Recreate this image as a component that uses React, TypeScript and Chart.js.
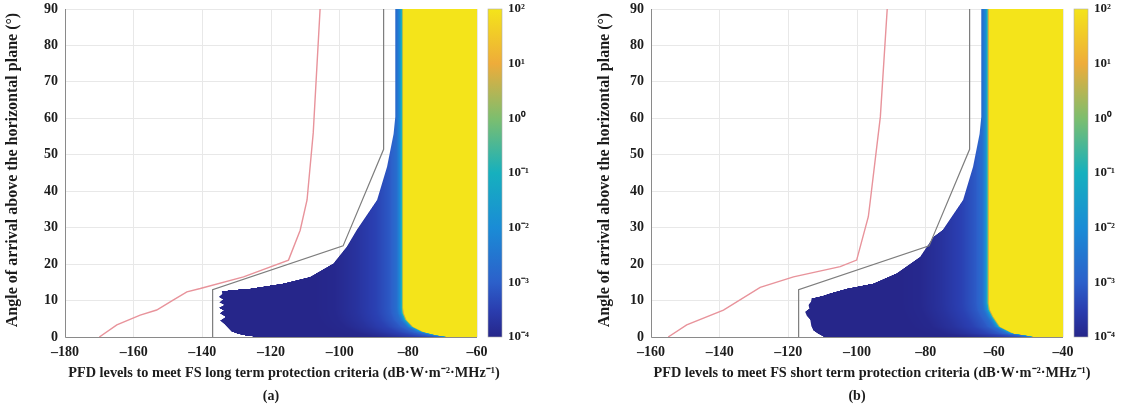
import React, { useEffect, useRef } from 'react';
import { Chart, registerables } from 'chart.js';

Chart.register(...registerables);

const FONT = "'Liberation Serif', 'Times New Roman', serif";
const TEXT = '#1c1c1c';

// ---- shared ticks / colour bar ----
const Y_TICKS = [0, 10, 20, 30, 40, 50, 60, 70, 80, 90];
const CB_TICKS = [1e-4, 1e-3, 1e-2, 1e-1, 1, 10, 100];
const CB_LABELS = ['10⁻⁴', '10⁻³', '10⁻²', '10⁻¹', '10⁰', '10¹', '10²'];
const CB_STOP_LOG = [-4, -3.5, -3, -2, -1, 0, 1, 2];
const CB_STOP_RGB = [
  [38, 38, 138],
  [42, 62, 176],
  [44, 96, 202],
  [26, 140, 214],
  [22, 176, 190],
  [125, 190, 110],
  [238, 172, 58],
  [244, 228, 26],
];
// colour (log10 value) versus distance (dB) to the yellow front
const PROFILE_D = [0, 0.2, 0.4, 0.6, 1.0, 2.0, 4, 8, 14, 20, 26];
const PROFILE_LOG = [2, 0.8, 0, -1, -2, -2.7, -3.1, -3.45, -3.75, -3.95, -4];

// ---- panel (a): long term ----
const X_TICKS_A = [-180, -160, -140, -120, -100, -80, -60];
const PINK_X_A = [-170, -164.9, -158.1, -153.3, -148.4, -144.5, -140.6, -128, -114.9, -111.5, -109.5, -107.7, -105.7];
const PINK_Y_A = [0, 3.3, 6.0, 7.4, 10.2, 12.4, 13.3, 16.5, 21.1, 29.3, 37.6, 56, 90];
const GRAY_X_A = [-137, -137, -99, -87.2, -87.2];
const GRAY_Y_A = [0, 13, 25, 51.5, 90];
const EDGE_ANG_A = [0, 0.3, 0.8, 1.5, 2.5, 3.5, 4.5, 5.5, 6.5, 7.3, 8.0, 8.8, 9.5, 10.3, 11.0, 11.8, 12.6, 13.0, 13.3, 14.7, 16.5, 20.2, 24.8, 29.4, 37.6, 46.7, 55.7, 60.4, 90];
const EDGE_X_A = [-124, -127, -129.5, -131.5, -132.5, -133.5, -134.8, -133.2, -134.9, -133.8, -135.2, -133.6, -135, -134, -135.2, -134.2, -134.3, -130, -126, -116.4, -108.6, -101.8, -97.9, -95, -89.1, -86.2, -84.3, -83.8, -83.8];
const YEL_ANG_A = [0, 0.1, 0.5, 1.4, 2.8, 4.7, 6.5, 8, 90];
const YEL_X_A = [-66, -68.7, -71.6, -75.5, -78.5, -80.4, -81.2, -81.4, -81.4];

// ---- panel (b): short term ----
const X_TICKS_B = [-160, -140, -120, -100, -80, -60, -40];
const PINK_X_B = [-155, -149.6, -138.9, -128.2, -118.5, -104.9, -100.1, -96.7, -96.1, -93.2, -91.2];
const PINK_Y_B = [0, 3.3, 7.4, 13.6, 16.5, 19.3, 21.1, 33, 37.6, 60.4, 90];
const GRAY_X_B = [-117, -117, -79, -67.2, -67.2];
const GRAY_Y_B = [0, 13, 25, 51.5, 90];
const EDGE_ANG_B = [0, 0.1, 1.0, 1.8, 3.0, 4.7, 5.8, 6.9, 7.8, 8.8, 9.7, 10.6, 11.3, 12.0, 13.3, 14.7, 17.5, 22.0, 27.5, 29.4, 37.6, 46.7, 55.7, 60.4, 90];
const EDGE_X_B = [-105, -109.8, -111.5, -112.7, -113.3, -113.6, -114.6, -115.1, -113.9, -114.1, -113.4, -113.2, -110, -107.8, -102.9, -95.2, -88.4, -81.6, -77.7, -75, -69.1, -66.2, -64.3, -63.8, -63.8];
const YEL_ANG_B = [0, 0.3, 1.0, 2.8, 5.6, 7.5, 9.3, 90];
const YEL_X_B = [-48, -49.5, -54.4, -58.2, -60.2, -61.2, -61.5, -61.5];

const Y_TITLE = 'Angle of arrival above the horizontal plane (°)';
const X_TITLE_A = 'PFD levels to meet FS long term protection criteria (dB·W·m⁻²·MHz⁻¹)';
const X_TITLE_B = 'PFD levels to meet FS short term protection criteria (dB·W·m⁻²·MHz⁻¹)';

function interp(v: number, xs: number[], ys: number[]) {
  if (v <= xs[0]) return ys[0];
  for (let i = 1; i < xs.length; i++) {
    if (v <= xs[i]) {
      const t = (v - xs[i - 1]) / (xs[i] - xs[i - 1]);
      return ys[i - 1] + t * (ys[i] - ys[i - 1]);
    }
  }
  return ys[ys.length - 1];
}

function colorAt(lg: number) {
  const r = interp(lg, CB_STOP_LOG, CB_STOP_RGB.map((c) => c[0]));
  const g = interp(lg, CB_STOP_LOG, CB_STOP_RGB.map((c) => c[1]));
  const b = interp(lg, CB_STOP_LOG, CB_STOP_RGB.map((c) => c[2]));
  return [r, g, b];
}

interface Panel {
  xTicks: number[];
  pinkX: number[]; pinkY: number[];
  grayX: number[]; grayY: number[];
  edgeAng: number[]; edgeX: number[];
  yelAng: number[]; yelX: number[];
  xTitle: string; tag: string;
  yAxisWidth: number; yTitleX: number; cbWidth: number; xTitleShift: number;
}

const PANEL_A: Panel = {
  xTicks: X_TICKS_A, pinkX: PINK_X_A, pinkY: PINK_Y_A, grayX: GRAY_X_A, grayY: GRAY_Y_A,
  edgeAng: EDGE_ANG_A, edgeX: EDGE_X_A, yelAng: YEL_ANG_A, yelX: YEL_X_A,
  xTitle: X_TITLE_A, tag: '(a)', yAxisWidth: 65, yTitleX: 13, cbWidth: 84, xTitleShift: 13,
};
const PANEL_B: Panel = {
  xTicks: X_TICKS_B, pinkX: PINK_X_B, pinkY: PINK_Y_B, grayX: GRAY_X_B, grayY: GRAY_Y_B,
  edgeAng: EDGE_ANG_B, edgeX: EDGE_X_B, yelAng: YEL_ANG_B, yelX: YEL_X_B,
  xTitle: X_TITLE_B, tag: '(b)', yAxisWidth: 90, yTitleX: 44, cbWidth: 59, xTitleShift: 15,
};

function makeField(p: Panel) {
  return {
    id: 'field',
    beforeDatasetsDraw(chart: any) {
      const { ctx, chartArea: ca, scales } = chart;
      const xs = scales.x, ys = scales.y;
      const w = Math.round(ca.right - ca.left), h = Math.round(ca.bottom - ca.top);
      const off = document.createElement('canvas');
      off.width = w; off.height = h;
      const octx = off.getContext('2d')!;
      const img = octx.createImageData(w, h);
      const colVals: number[] = [];
      for (let i = 0; i < w; i++) colVals.push(xs.getValueForPixel(ca.left + i + 0.5));
      for (let j = 0; j < h; j++) {
        const ang = ys.getValueForPixel(ca.top + j + 0.5);
        if (ang < 0 || ang > 90) continue;
        const left = interp(ang, p.edgeAng, p.edgeX);
        const yel = interp(ang, p.yelAng, p.yelX);
        const leftPx = xs.getPixelForValue(left) - ca.left;
        for (let i = 0; i < w; i++) {
          const cov = Math.min(1, Math.max(0, i + 1 - leftPx));
          if (cov <= 0) continue;
          const d = yel - colVals[i];
          const lg = d <= 0 ? 2 : interp(d, PROFILE_D, PROFILE_LOG);
          const c = colorAt(lg);
          const k = (j * w + i) * 4;
          img.data[k] = c[0]; img.data[k + 1] = c[1]; img.data[k + 2] = c[2];
          img.data[k + 3] = Math.round(255 * cov);
        }
      }
      octx.putImageData(img, 0, 0);
      ctx.drawImage(off, ca.left, ca.top);
    },
    afterDraw(chart: any) {
      const { ctx, chartArea: ca, scales } = chart;
      const cb = scales.cb;
      // colour bar
      const x0 = ca.right + 11, bw = 14;
      const grad = ctx.createLinearGradient(0, ca.bottom, 0, ca.top);
      const span = ca.bottom - ca.top;
      CB_STOP_LOG.forEach((lg, i) => {
        const py = cb.getPixelForValue(Math.pow(10, lg));
        const c = CB_STOP_RGB[i];
        grad.addColorStop(Math.min(1, Math.max(0, (ca.bottom - py) / span)), `rgb(${c[0]},${c[1]},${c[2]})`);
      });
      ctx.save();
      ctx.fillStyle = grad;
      ctx.fillRect(x0, ca.top, bw, span);
      ctx.strokeStyle = '#b0b0b0';
      ctx.lineWidth = 0.6;
      ctx.strokeRect(x0, ca.top, bw, span);
      // axis lines on top of field
      ctx.strokeStyle = '#8a8a8a';
      ctx.lineWidth = 1;
      ctx.beginPath();
      ctx.moveTo(ca.left + 0.5, ca.top);
      ctx.lineTo(ca.left + 0.5, ca.bottom + 0.5);
      ctx.lineTo(ca.right, ca.bottom + 0.5);
      ctx.stroke();
      // titles and panel tag
      ctx.fillStyle = TEXT;
      ctx.textAlign = 'center';
      ctx.textBaseline = 'middle';
      ctx.font = `bold 14.3px ${FONT}`;
      const cx = (ca.left + ca.right) / 2;
      ctx.fillText(p.xTitle, cx + p.xTitleShift, 373);
      ctx.font = `bold 14px ${FONT}`;
      ctx.fillText(p.tag, cx, 396);
      ctx.save();
      ctx.translate(p.yTitleX, (ca.top + ca.bottom) / 2 - 3);
      ctx.rotate(-Math.PI / 2);
      ctx.font = `bold 16px ${FONT}`;
      ctx.fillText(Y_TITLE, 0, 0);
      ctx.restore();
      ctx.restore();
    },
  };
}

function PanelChart({ p }: { p: Panel }) {
  const ref = useRef<HTMLCanvasElement>(null);
  useEffect(() => {
    const tickFont = { family: FONT, size: 14, weight: 'bold' as const };
    const hidden = 'rgba(0,0,0,0)';
    const chart = new Chart(ref.current!, {
      type: 'scatter',
      data: {
        datasets: [
          {
            data: p.pinkX.map((x, i) => ({ x, y: p.pinkY[i] })),
            showLine: true, borderColor: '#e8939b', borderWidth: 1.4, pointRadius: 0, tension: 0,
          },
          {
            data: p.grayX.map((x, i) => ({ x, y: p.grayY[i] })),
            showLine: true, borderColor: '#7d7d7d', borderWidth: 1.2, pointRadius: 0, tension: 0,
          },
        ],
      },
      options: {
        animation: false,
        responsive: false,
        events: [],
        layout: { padding: { top: 9, left: 0, right: 0, bottom: 0 } },
        plugins: { legend: { display: false }, tooltip: { enabled: false } },
        scales: {
          x: {
            type: 'linear',
            min: p.xTicks[0], max: p.xTicks[p.xTicks.length - 1],
            afterBuildTicks: (s: any) => { s.ticks = p.xTicks.map((v) => ({ value: v })); },
            afterFit: (s: any) => { s.height = 75; },
            grid: { color: '#e8e8e8', drawTicks: true, tickLength: 7, tickColor: hidden },
            border: { display: false },
            ticks: {
              padding: 0, color: TEXT, font: tickFont, maxRotation: 0,
              callback: (v: any) => String(v).replace('-', '–'),
            },
          },
          y: {
            type: 'linear', min: 0, max: 90,
            afterBuildTicks: (s: any) => { s.ticks = Y_TICKS.map((v) => ({ value: v })); },
            afterFit: (s: any) => { s.width = p.yAxisWidth; },
            grid: { color: '#e8e8e8', drawTicks: true, tickLength: 7, tickColor: hidden },
            border: { display: false },
            ticks: { padding: 0, color: TEXT, font: tickFont },
          },
          cb: {
            type: 'logarithmic', position: 'right', min: 1e-4, max: 100,
            afterBuildTicks: (s: any) => { s.ticks = CB_TICKS.map((v) => ({ value: v })); },
            afterFit: (s: any) => { s.width = p.cbWidth; },
            grid: { display: false, drawTicks: true, tickLength: 31 },
            border: { display: false },
            ticks: {
              padding: 0, color: TEXT, font: { family: FONT, size: 13, weight: 'bold' },
              callback: (_v: any, i: number) => CB_LABELS[i],
            },
          },
        },
      } as any,
      plugins: [makeField(p)],
    });
    return () => chart.destroy();
  }, [p]);
  return <canvas ref={ref} width={561} height={412} style={{ display: 'block' }} />;
}

export default function App() {
  return (
    <div style={{ position: 'absolute', left: 0, top: 0, width: 1122, height: 412, display: 'flex', background: '#fff' }}>
      <PanelChart p={PANEL_A} />
      <PanelChart p={PANEL_B} />
    </div>
  );
}
